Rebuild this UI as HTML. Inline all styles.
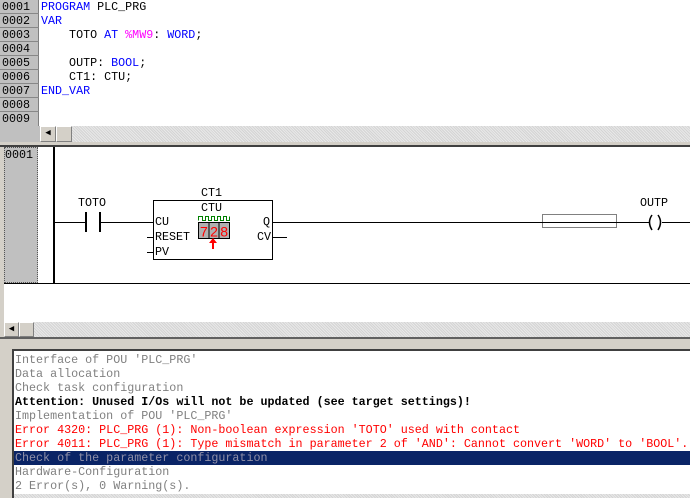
<!DOCTYPE html>
<html><head><meta charset="utf-8"><style>
*{margin:0;padding:0;box-sizing:border-box}
body{width:690px;height:498px;overflow:hidden;background:#fff;position:relative;font-family:"Liberation Mono",monospace;font-size:11.7px}
.a{position:absolute;white-space:pre;line-height:14px}
.g{background:#c0c0c0}
.hatch{background:repeating-linear-gradient(45deg,#e8e8e8 0 1px,#d4d4d4 1px 2px)}
.btn{position:absolute;background:#d4d0c8;border:1px solid;border-color:#fff #808080 #808080 #fff}
.kw{color:#0000ff}.pk{color:#ff00ff}
</style></head><body>
<div class="a g" style="left:0;top:0;width:39px;height:126px;border-right:1px solid #808080"></div>
<div class="a" style="left:2px;top:0;color:#000">0001
0002
0003
0004
0005
0006
0007
0008
0009</div>
<div class="a" style="left:0;top:13px;width:39px;height:0;border-top:1px solid #888"></div>
<div class="a" style="left:0;top:27px;width:39px;border-top:1px solid #888"></div>
<div class="a" style="left:0;top:41px;width:39px;border-top:1px solid #888"></div>
<div class="a" style="left:0;top:55px;width:39px;border-top:1px solid #888"></div>
<div class="a" style="left:0;top:69px;width:39px;border-top:1px solid #888"></div>
<div class="a" style="left:0;top:83px;width:39px;border-top:1px solid #888"></div>
<div class="a" style="left:0;top:97px;width:39px;border-top:1px solid #888"></div>
<div class="a" style="left:0;top:111px;width:39px;border-top:1px solid #888"></div>
<div class="a" style="left:41px;top:0;color:#000"><span class="kw">PROGRAM</span> PLC_PRG
<span class="kw">VAR</span>
    TOTO <span class="kw">AT</span> <span class="pk">%MW9</span>: <span class="kw">WORD</span>;

    OUTP: <span class="kw">BOOL</span>;
    CT1: CTU;
<span class="kw">END_VAR</span></div>
<div class="a hatch" style="left:0;top:126px;width:690px;height:16px"></div>
<div class="a g" style="left:0;top:126px;width:40px;height:16px"></div>
<div class="btn" style="left:40px;top:126px;width:16px;height:16px;font-size:9px;line-height:13px;text-align:center">◀</div>
<div class="btn" style="left:56px;top:126px;width:16px;height:16px"></div>
<div class="a" style="left:0;top:142px;width:690px;height:5px;background:#d4d0c8;border-bottom:2px solid #404040"></div>
<div class="a g" style="left:4px;top:147px;width:34px;height:136px;border:1px dotted #555"></div>
<div class="a" style="left:5px;top:148px">0001</div>
<div class="a" style="left:0;top:147px;width:4px;height:190px;background:#d4d0c8"></div>
<svg class="a" style="left:0;top:0" width="690" height="300">
<g stroke="#000" fill="none">
<line x1="54" y1="147" x2="54" y2="283" stroke-width="2"/>
<line x1="4" y1="283.5" x2="690" y2="283.5"/>
<line x1="54" y1="222.5" x2="86" y2="222.5"/>
<line x1="86" y1="212" x2="86" y2="232" stroke-width="2"/>
<line x1="100" y1="212" x2="100" y2="232" stroke-width="2"/>
<line x1="100" y1="222.5" x2="153" y2="222.5"/>
<rect x="153.5" y="200.5" width="119" height="59"/>
<line x1="147" y1="237.5" x2="153" y2="237.5"/>
<line x1="147" y1="252.5" x2="153" y2="252.5"/>
<line x1="272" y1="222.5" x2="649" y2="222.5"/>
<line x1="272" y1="237.5" x2="287" y2="237.5"/>
<line x1="662" y1="222.5" x2="690" y2="222.5"/>
<rect x="542.5" y="214.5" width="74" height="13" stroke-dasharray="1,1"/>
<path d="M652 215 Q647 222 652 230 M658 215 Q663 222 658 230" stroke-width="1.5"/>
<path d="M198.5 220.5V216.5H202.5V220.5H205.5V216.5H208.5V220.5H211.5V216.5H214.5V220.5H217.5V216.5H220.5V220.5H223.5V216.5H226.5V220.5H229.5V216.5" stroke="#008000"/>
</g>
<rect x="198.5" y="222.5" width="31" height="16" fill="#b0b0b0" stroke="#000"/>
<line x1="209" y1="223" x2="209" y2="238" stroke="#000"/>
<line x1="219" y1="223" x2="219" y2="238" stroke="#000"/>
<text x="200" y="236.5" font-family="Liberation Sans" font-size="14" fill="#ff0000" textLength="28">728</text>
<line x1="213" y1="242" x2="213" y2="249" stroke="#f00" stroke-width="2"/>
<path d="M209 243L213 238L217 243Z" fill="#f00"/>
</svg>
<div class="a" style="left:78px;top:196px">TOTO</div>
<div class="a" style="left:201px;top:186px">CT1</div>
<div class="a" style="left:201px;top:201px">CTU</div>
<div class="a" style="left:155px;top:215px">CU</div>
<div class="a" style="left:155px;top:230px">RESET</div>
<div class="a" style="left:155px;top:245px">PV</div>
<div class="a" style="left:263px;top:215px">Q</div>
<div class="a" style="left:257px;top:230px">CV</div>
<div class="a" style="left:640px;top:196px">OUTP</div>
<div class="a hatch" style="left:4px;top:322px;width:686px;height:15px"></div>
<div class="btn" style="left:4px;top:322px;width:15px;height:15px;font-size:9px;line-height:12px;text-align:center">◀</div>
<div class="btn" style="left:19px;top:322px;width:15px;height:15px"></div>
<div class="a" style="left:0;top:337px;width:690px;height:13px;background:#d4d0c8;border-top:2px solid #606060"></div>
<div class="a" style="left:0;top:350px;width:13px;height:148px;background:#d4d0c8"></div>
<div class="a" style="left:12px;top:349px;width:678px;border-top:2px solid #404040;height:149px;border-left:2px solid #404040"></div>
<div class="a hatch" style="left:14px;top:494px;width:676px;height:4px"></div>
<div class="a" style="left:14px;top:451px;width:676px;height:14px;background:#0a2466"></div>
<div class="a" style="left:15px;top:353px;color:#808080">Interface of POU 'PLC_PRG'
Data allocation
Check task configuration
<b style="color:#000">Attention: Unused I/Os will not be updated (see target settings)!</b>
Implementation of POU 'PLC_PRG'
<span style="color:#ff0000">Error 4320: PLC_PRG (1): Non-boolean expression 'TOTO' used with contact</span>
<span style="color:#ff0000">Error 4011: PLC_PRG (1): Type mismatch in parameter 2 of 'AND': Cannot convert 'WORD' to 'BOOL'.</span>
<span style="color:#9090a8">Check of the parameter configuration</span>
Hardware-Configuration
2 Error(s), 0 Warning(s).</div>
</body></html>
